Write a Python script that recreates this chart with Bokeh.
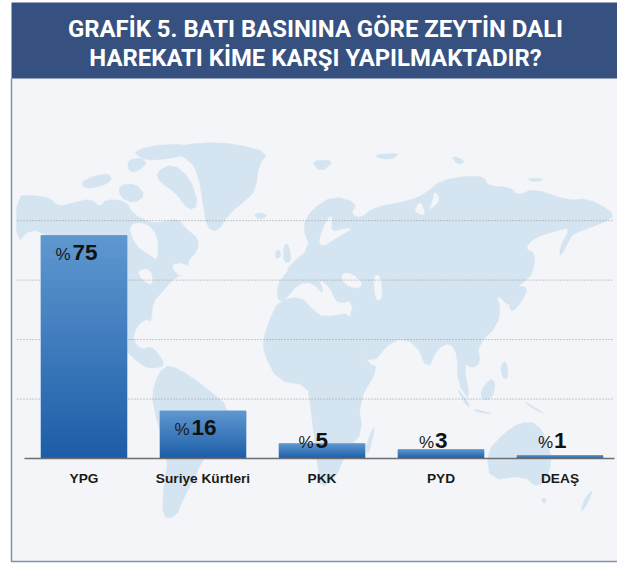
from bokeh.plotting import figure
from bokeh.models import Range1d, FixedTicker
from bokeh.core.properties import value
from bokeh.embed import file_html
from bokeh.resources import INLINE

categories = ["YPG", "Suriye Kürtleri", "PKK", "PYD", "DEAŞ"]
values = [75, 16, 5, 3, 1]
grid_values = [20, 40, 60, 80]
title_lines = ["GRAFİK 5. BATI BASININA GÖRE ZEYTİN DALI", "HAREKATI KİME KARŞI YAPILMAKTADIR?"]

# decorative background map outline, page pixels
north_america = [(16,195),(35,195),(50,198),(58,206),(70,203),(90,198),(100,207),(105,199),(125,200),(133,214),(150,222),(160,222),(178,218),(185,228),(198,238),(197,250),(186,262),(192,272),(175,276),(163,290),(152,302),(151,322),(146,318),(136,326),(132,340),(141,349),(150,346),(157,352),(165,365),(153,368),(143,366),(127,352),(100,330),(75,290),(60,250),(50,236),(30,228),(16,243)]
canada_islands = [
    [(80,182),(95,175),(108,173),(112,180),(100,186),(85,188)],
    [(127,160),(140,157),(147,163),(135,172),(128,170)],
    [(133,150),(165,143),(200,146),(185,155),(155,160),(140,158)],
    [(155,172),(172,163),(190,178),(198,205),(188,210),(175,192),(160,182)],
    [(118,185),(135,183),(145,195),(133,203),(120,197)],
]
greenland = [(165,148),(200,142),(233,143),(268,152),(258,165),(255,190),(245,200),(230,212),(216,232),(206,226),(203,205),(198,175),(190,160)]
south_america = [(163,365),(178,368),(203,385),(230,408),(222,430),(203,458),(190,485),(183,498),(175,517),(162,517),(163,485),(168,458),(152,405),(153,385)]
eurasia = [(310,210),(333,195),(357,203),(350,213),(360,218),(373,207),(410,200),(425,193),(440,180),(470,175),(484,177),(487,185),(510,187),(517,195),(534,188),(567,200),(587,198),(610,210),(613,218),(587,228),(574,233),(570,237),(560,257),(559,247),(570,227),(557,230),(534,237),(524,248),(535,253),(532,273),(525,280),(510,293),(510,307),(495,293),(500,307),(497,325),(477,345),(480,362),(472,368),(463,362),(470,402),(457,382),(457,355),(450,342),(437,348),(427,370),(415,342),(393,338),(370,365),(357,342),(348,325),(353,300),(337,303),(332,293),(330,288),(318,277),(324,295),(312,282),(298,283),(284,300),(277,300),(277,283),(288,270),(287,267),(310,247),(302,227)]
white_seas = [
    [(340,273),(352,273),(362,283),(358,288),(345,285)],
    [(373,275),(380,275),(382,298),(375,300)],
    [(327,218),(332,215),(330,232),(345,228),(352,228),(335,238),(322,246),(318,240)],
    [(128,224),(145,222),(157,235),(157,260),(150,255),(135,245)],
    [(170,265),(182,262),(197,272),(180,277)],
    [(137,270),(150,268),(153,285),(142,280)],
    [(414,210),(420,200),(425,215),(418,213)],
    [(434,190),(440,200),(428,210),(432,202)],
]
uk = [(283,245),(288,243),(291,262),(283,262)]
ireland = [(275,250),(280,250),(280,257),(275,258)]
iceland = [(253,214),(262,212),(267,216),(258,219)]
africa = [(278,300),(300,296),(313,310),(323,317),(352,312),(357,342),(368,363),(378,367),(358,402),(362,432),(348,448),(343,458),(335,478),(320,488),(317,465),(310,405),(307,385),(277,380),(263,352),(263,338),(268,322)]
madagascar = [(375,425),(368,455),(365,448),(370,432)]
australia = [(520,422),(537,422),(550,448),(550,472),(537,488),(523,475),(490,480),(486,452),(503,433)]
other_islands = [
    [(593,488),(586,505),(580,512),(584,498)],
    [(540,498),(546,498),(544,504)],
    [(523,400),(547,415),(530,407)],
    [(480,390),(490,378),(495,382),(492,398),(482,400)],
    [(455,385),(470,405),(466,406)],
    [(472,408),(495,414),(478,412)],
    [(500,365),(506,360),(508,378),(502,378)],
    [(512,286),(528,286),(522,300),(512,312),(508,305)],
    [(310,160),(335,160),(320,172)],
    [(370,155),(400,152),(390,160)],
    [(450,155),(465,160),(458,165)],
    [(525,178),(545,178),(535,182)],
]

MAP = "#d4e4f0"
PANEL = "#f4f5f8"
HEADER = "#36517f"
BORDER = "#7f8fb5"

PX_UNIT = 2.973
X_STEP = 119.0
p = figure(
    width=617, height=563, output_backend="svg", toolbar_location=None,
    x_range=Range1d(-83.5 / X_STEP, (617 - 83.5) / X_STEP),
    y_range=Range1d(-(563 - 458) / PX_UNIT, 458 / PX_UNIT),
    min_border=0, outline_line_color=None, background_fill_color="white", border_fill_color="white",
)
p.margin = (0, 0, 0, 0)
p.extra_x_ranges["page"] = Range1d(0, 617)
p.extra_y_ranges["page"] = Range1d(563, 0)
page = dict(x_range_name="page", y_range_name="page")

def smooth(points, rounds=1):
    for _ in range(rounds):
        out = []
        for a, b in zip(points, points[1:] + points[:1]):
            out.append((0.75 * a[0] + 0.25 * b[0], 0.75 * a[1] + 0.25 * b[1]))
            out.append((0.25 * a[0] + 0.75 * b[0], 0.25 * a[1] + 0.75 * b[1]))
        points = out
    return points

def poly(points, color, level="image"):
    p.patch([q[0] for q in points], [q[1] for q in points], fill_color=color, line_color=color,
            line_width=0.5, level=level, **page)

poly([(11, 78), (617, 78), (617, 561), (11, 561)], PANEL)
for shape in [north_america, greenland, south_america, eurasia, uk, ireland, iceland, africa, madagascar, australia] + canada_islands + other_islands:
    poly(smooth(shape), MAP)
for shape in white_seas:
    poly(smooth(shape), PANEL)

p.line([11, 11, 617], [78, 561, 561], line_color=BORDER, line_width=1.5, level="image", **page)
p.quad(left=11, right=617, top=2, bottom=78, fill_color=HEADER, line_color=None, **page)

# axes
p.yaxis.visible = False
p.grid.visible = False
GRID_LEFT, GRID_RIGHT = (17 - 83.5) / X_STEP, (613 - 83.5) / X_STEP
p.segment(x0=[GRID_LEFT] * len(grid_values), x1=[GRID_RIGHT] * len(grid_values),
          y0=grid_values, y1=grid_values,
          line_color="#9a9a9a", line_dash="1 2", line_width=1, level="underlay")

ax = p.xaxis[0]
ax.fixed_location = 0
ax.ticker = FixedTicker(ticks=list(range(len(categories))))
ax.major_label_overrides = {i: c for i, c in enumerate(categories)}
ax.major_label_text_font = "Liberation Sans"
ax.major_label_text_font_style = "bold"
ax.major_label_text_font_size = "13.7px"
ax.major_label_text_color = "#1a1a1a"
ax.major_label_standoff = 6
ax.major_tick_line_color = None
ax.minor_tick_line_color = None
ax.axis_line_color = "#6e6e6e"
ax.axis_line_width = 1.5
ax.bounds = ((24 - 83.5) / X_STEP, (614 - 83.5) / X_STEP)

# bars with vertical gradient, painted from top to bottom so the bands overlap
TOP = (0x5f, 0x98, 0xd0)
BOTTOM = (0x1d, 0x5d, 0xa8)
N = 30
BAR_W = 86.0 / X_STEP
p.vbar(x=list(range(len(values))), top=values, width=BAR_W, bottom=0,
       fill_color="#7aa9d8", line_color="#7aa9d8", line_width=1)
lefts, rights, tops, bottoms, colors = [], [], [], [], []
for i, v in enumerate(values):
    for k in range(N):
        f0, f1 = k / N, (k + 1) / N
        c = tuple(round(TOP[j] + (BOTTOM[j] - TOP[j]) * (f0 + f1) / 2) for j in range(3))
        lefts.append(i - BAR_W / 2); rights.append(i + BAR_W / 2)
        tops.append(v * (1 - f0)); bottoms.append(0)
        colors.append("#%02x%02x%02x" % c)
p.quad(left=lefts, right=rights, top=tops, bottom=bottoms, fill_color=colors, line_color=None)

# value labels
pct_dx = [-13.5, -13.5, -8.5, -7, -7]
num_dx = [-11.5, -11.5, -6.5, -6, -6]
for i, v in enumerate(values):
    tall = v > 10
    yv = v if tall else 0
    yo = 27.5 if tall else -7
    p.text([i], [yv], text=["%"], x_offset=pct_dx[i], y_offset=yo - 9, text_align="right", text_baseline="alphabetic",
           text_font=value("Liberation Sans"), text_font_size="17px", text_color="#1a1a1a")
    p.text([i], [yv], text=[str(v)], x_offset=num_dx[i], y_offset=yo - 11, text_align="left", text_baseline="alphabetic",
           text_font=value("Liberation Sans"), text_font_size="22.5px",
           text_font_style="bold", text_color="#111111")

# title
for line, y in zip(title_lines, [28, 57]):
    p.text([315], [y], text=[line], text_align="center", text_baseline="middle",
           text_font=value("Roboto"), text_font_style="bold", text_font_size="23.9px", text_color="white", **page)

open("out.html", "w").write(file_html(p, INLINE))
